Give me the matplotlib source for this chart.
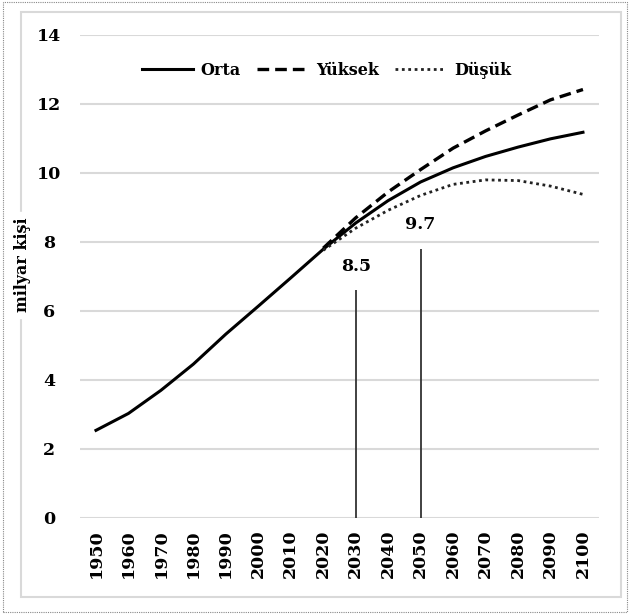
import matplotlib.pyplot as plt
from matplotlib.patches import Rectangle

years = [1950, 1960, 1970, 1980, 1990, 2000, 2010, 2020,
         2030, 2040, 2050, 2060, 2070, 2080, 2090, 2100]
orta = [2.54, 3.03, 3.70, 4.46, 5.33, 6.14, 6.96, 7.79,
        8.55, 9.20, 9.74, 10.15, 10.48, 10.75, 10.99, 11.18]
# projections start at 2020
yuksek = [7.82, 8.70, 9.45, 10.10, 10.72, 11.22, 11.68, 12.12, 12.42]
dusuk = [7.76, 8.40, 8.92, 9.35, 9.67, 9.80, 9.78, 9.62, 9.38]
notes = [(2030, 8.5), (2050, 9.7)]

font = 'DejaVu Serif'
plt.rcParams['font.family'] = font
plt.rcParams['font.weight'] = 'bold'

fig = plt.figure(figsize=(6.3, 6.14), dpi=100)
# outer dotted frame and inner chart frame
fig.patches.append(Rectangle((0.004, 0.003), 0.992, 0.994, transform=fig.transFigure,
                             fill=False, ec='#888888', lw=0.8, ls=(0, (1, 1))))
fig.patches.append(Rectangle((0.034, 0.027), 0.952, 0.953, transform=fig.transFigure,
                             fill=False, ec='#d9d9d9', lw=1.5))

ax = fig.add_axes([0.1266, 0.1564, 0.8245, 0.7866])
x = list(range(len(years)))
start = years.index(2020)

ax.plot(x, orta, color='black', lw=2.2, label='Orta')
ax.plot(x[start:], yuksek, color='black', lw=2.4, ls=(0, (3.5, 1.8)), label='Yüksek')
ax.plot(x[start:], dusuk, color='#222222', lw=2.0, ls=(0, (1, 1.3)), label='Düşük')

tops = [6.6, 7.8]
for (yr, val), top in zip(notes, tops):
    i = years.index(yr)
    ax.vlines(i, 0, top, color='#333333', lw=1.3)
    ax.text(i, top + 0.45, f'{val}', ha='center', va='bottom', fontsize=12.5, fontweight='bold')

ax.set_xlim(-0.5, len(years) - 0.5)
ax.set_ylim(0, 14)
ax.set_yticks(range(0, 15, 2))
ax.set_xticks(x)
ax.set_xticklabels([str(y) for y in years], rotation=90, fontsize=12.5, fontweight='bold')
ax.tick_params(axis='y', labelsize=12.5, length=0, pad=22)
for lab in ax.get_yticklabels():
    lab.set_horizontalalignment('center')
ax.tick_params(axis='x', length=0, pad=8)
ax.grid(axis='y', color='#d9d9d9', lw=1.5)
ax.set_axisbelow(True)
for s in ax.spines.values():
    s.set_visible(False)

fig.text(0.036, 0.568, 'milyar kişi', rotation=90, ha='center', va='center',
         fontsize=11.5, fontweight='bold', backgroundcolor='white')

leg = ax.legend(loc='upper center', bbox_to_anchor=(0.475, 0.975), ncol=3, frameon=False,
                fontsize=11.5, handlelength=3.2, handletextpad=0.5, columnspacing=1.0)

fig.savefig('out.png', dpi=100)
